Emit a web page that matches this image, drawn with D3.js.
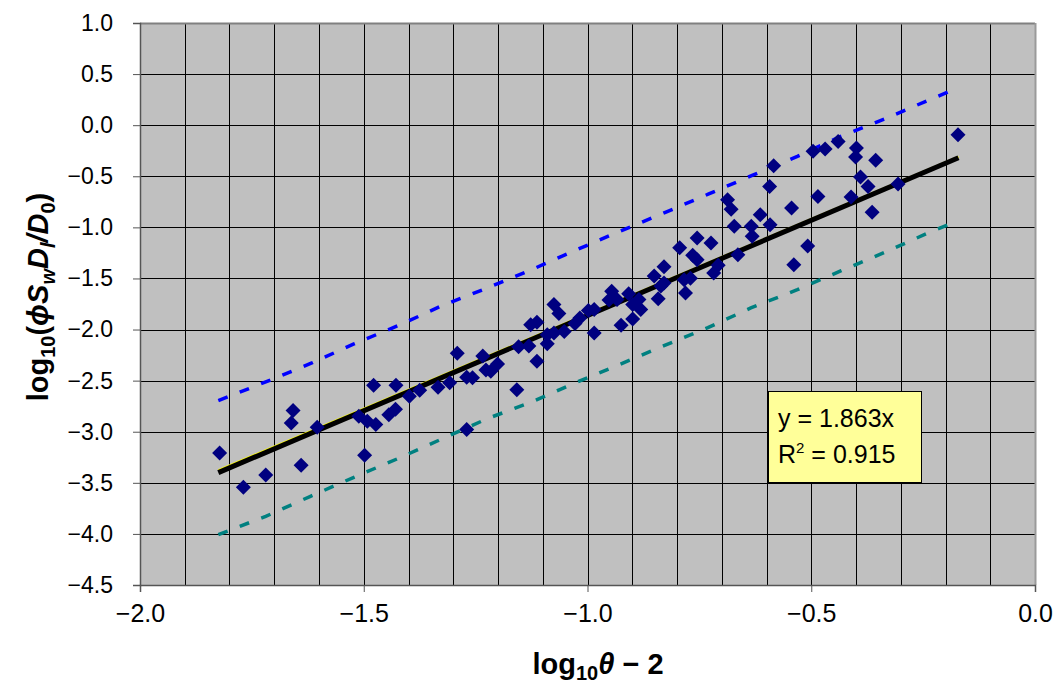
<!DOCTYPE html>
<html><head><meta charset="utf-8">
<script src="https://cdn.jsdelivr.net/npm/d3@7"></script>
<style>
html,body{margin:0;padding:0;background:#fff;}
text{font-family:"Liberation Sans",Arial,sans-serif;fill:#000;}
</style></head>
<body><svg id="c" width="1057" height="687"></svg>
<script>
// ---- data ----
const xVals = [-1.822,-1.769,-1.719,-1.658,-1.662,-1.640,-1.604,-1.498,-1.478,-1.428,-1.511,-1.492,-1.473,-1.444,-1.429,-1.398,-1.375,-1.334,-1.308,-1.291,-1.270,-1.257,-1.270,-1.234,-1.227,-1.216,-1.201,-1.158,-1.154,-1.131,-1.113,-1.127,-1.113,-1.090,-1.075,-1.064,-1.090,-1.075,-1.052,-1.028,-1.017,-0.998,-0.985,-0.985,-0.946,-0.952,-0.934,-0.925,-0.899,-0.908,-0.899,-0.885,-0.881,-0.851,-0.842,-0.836,-0.829,-0.829,-0.794,-0.784,-0.781,-0.770,-0.765,-0.755,-0.755,-0.724,-0.718,-0.708,-0.687,-0.679,-0.672,-0.664,-0.634,-0.632,-0.614,-0.592,-0.593,-0.584,-0.544,-0.539,-0.508,-0.485,-0.496,-0.469,-0.440,-0.399,-0.401,-0.356,-0.390,-0.373,-0.411,-0.364,-0.306,-0.172];
const yVals = [-3.207,-3.544,-3.423,-2.793,-2.914,-3.327,-2.957,-3.231,-2.544,-2.544,-2.849,-2.898,-2.930,-2.833,-2.779,-2.654,-2.593,-2.564,-2.520,-2.233,-2.468,-2.471,-2.979,-2.260,-2.395,-2.409,-2.336,-2.588,-2.169,-2.160,-2.311,-1.952,-1.928,-2.140,-1.756,-1.844,-2.050,-2.033,-2.018,-1.942,-1.888,-1.813,-1.805,-2.035,-1.626,-1.712,-1.707,-1.957,-1.898,-1.649,-1.756,-1.707,-1.805,-1.477,-1.698,-1.575,-1.544,-1.385,-1.199,-1.512,-1.642,-1.497,-1.272,-1.316,-1.104,-1.153,-1.446,-1.370,-0.729,-0.822,-0.990,-1.267,-0.990,-1.088,-0.876,-0.974,-0.599,-0.396,-0.810,-1.365,-1.182,-0.697,-0.256,-0.233,-0.159,-0.223,-0.311,-0.344,-0.507,-0.599,-0.703,-0.853,-0.575,-0.093];

const upperX = [-1.825,-1.716,-1.616,-1.522,-1.418,-1.325,-1.224,-1.125,-1.026,-0.928,-0.826,-0.729,-0.628,-0.531,-0.437,-0.336,-0.239,-0.171];
const upperY = [-2.696,-2.507,-2.327,-2.141,-1.952,-1.766,-1.593,-1.414,-1.223,-1.039,-0.853,-0.673,-0.484,-0.305,-0.115,0.061,0.243,0.367];
const lowerX = [-1.825,-1.719,-1.619,-1.522,-1.420,-1.325,-1.224,-1.127,-1.028,-0.929,-0.829,-0.731,-0.635,-0.531,-0.433,-0.336,-0.239,-0.171];
const lowerY = [-4.007,-3.828,-3.632,-3.446,-3.256,-3.070,-2.872,-2.712,-2.523,-2.343,-2.158,-1.981,-1.789,-1.610,-1.424,-1.245,-1.055,-0.934];

const trendX = [-1.825,-0.171];
const trendSlope = 1.863;
const trend2Slope = 1.854, trend2Intercept = 0.008;

const xTicks = [-2.0,-1.5,-1.0,-0.5,0.0];
const yTicks = [1.0,0.5,0.0,-0.5,-1.0,-1.5,-2.0,-2.5,-3.0,-3.5,-4.0,-4.5];
const eqLines = ["y = 1.863x","R2 = 0.915"];

// ---- drawing ----
const svg = d3.select("#c");
const L=140,R=1035,T=23,B=585;
const x = d3.scaleLinear().domain([-2,0]).range([L,R]);
const y = d3.scaleLinear().domain([-4.5,1]).range([B,T]);

svg.append("rect").attr("x",L).attr("y",T).attr("width",R-L).attr("height",B-T).attr("fill","#C0C0C0");

// grid
const vg = d3.range(-20,1).map(d=>d/10);
svg.append("g").selectAll("line").data(vg).join("line")
  .attr("x1",d=>Math.round(x(d))+0.5).attr("x2",d=>Math.round(x(d))+0.5)
  .attr("y1",T).attr("y2",B).attr("stroke","#000").attr("stroke-width",1);
svg.append("g").selectAll("line").data(yTicks).join("line")
  .attr("y1",d=>Math.round(y(d))+0.5).attr("y2",d=>Math.round(y(d))+0.5)
  .attr("x1",L).attr("x2",R).attr("stroke","#000").attr("stroke-width",1);

// border
svg.append("line").attr("x1",L).attr("x2",R).attr("y1",T+0.5).attr("y2",T+0.5).attr("stroke","#808080").attr("stroke-width",2);
svg.append("line").attr("x1",R+0.5).attr("x2",R+0.5).attr("y1",T).attr("y2",B).attr("stroke","#9a9a9a").attr("stroke-width",2);

// axes
const fmt = d=>d===0?"0.0":d3.format(".1f")(d).replace("-","\u2212");
const xAxis = d3.axisBottom(x).tickValues(xTicks).tickSize(7).tickPadding(12).tickFormat(fmt);
const gx = svg.append("g").attr("transform",`translate(0,${B})`).call(xAxis);
gx.select(".domain").attr("stroke","#555").attr("stroke-width",1.5);
gx.selectAll(".tick line").attr("stroke","#555");
gx.selectAll("text").attr("font-size",25).attr("fill","#000").attr("font-family","Liberation Sans, Arial, sans-serif");

const yAxis = d3.axisLeft(y).tickValues(yTicks).tickSize(7).tickPadding(20).tickFormat(fmt);
const gy = svg.append("g").attr("transform",`translate(${L},0)`).call(yAxis);
gy.select(".domain").attr("stroke","#555").attr("stroke-width",1.5);
gy.selectAll(".tick line").attr("stroke","#555");
gy.selectAll("text").attr("font-size",23).attr("fill","#000").attr("font-family","Liberation Sans, Arial, sans-serif");

// bands
const line = d3.line().x(d=>x(d[0])).y(d=>y(d[1]));
svg.append("path").datum(upperX.map((v,i)=>[v,upperY[i]])).attr("d",line)
  .attr("fill","none").attr("stroke","#0000FF").attr("stroke-width",3.5).attr("stroke-dasharray","10,13");
svg.append("path").datum(lowerX.map((v,i)=>[v,lowerY[i]])).attr("d",line)
  .attr("fill","none").attr("stroke","#008080").attr("stroke-width",3.5).attr("stroke-dasharray","10,13");

// trend lines
svg.append("path").datum(trendX.map(v=>[v,trend2Slope*v+trend2Intercept])).attr("d",line)
  .attr("fill","none").attr("stroke","#FFFF00").attr("stroke-width",2);
svg.append("path").datum(trendX.map(v=>[v,trendSlope*v])).attr("d",line)
  .attr("fill","none").attr("stroke","#000").attr("stroke-width",5);

// points
const r=7.5;
svg.append("g").selectAll("path").data(xVals.map((v,i)=>[v,yVals[i]])).join("path")
  .attr("d",`M0,${-r}L${r},0L0,${r}L${-r},0Z`)
  .attr("transform",d=>`translate(${x(d[0])},${y(d[1])})`)
  .attr("fill","#000080");

// equation box
const bx = svg.append("g");
bx.append("rect").attr("x",768.5).attr("y",391.5).attr("width",153).attr("height",91)
  .attr("fill","#FFFF99").attr("stroke","#000").attr("stroke-width",1);
bx.append("text").attr("x",778).attr("y",427).attr("font-size",25).text(eqLines[0]);
const t2 = bx.append("text").attr("x",778).attr("y",463).attr("font-size",25);
t2.append("tspan").text("R");
t2.append("tspan").attr("dy",-10).attr("font-size",15).text("2");
t2.append("tspan").attr("dy",10).text(" = 0.915");

// axis titles
const xt = svg.append("text").attr("x",598).attr("y",674).attr("text-anchor","middle")
  .attr("font-size",29).attr("font-weight","bold");
xt.append("tspan").text("log");
xt.append("tspan").attr("dy",6).attr("font-size",20).text("10");
xt.append("tspan").attr("dy",-6).attr("font-style","italic").text("\u03B8");
xt.append("tspan").text(" \u2212 2");

const yt = svg.append("text").attr("transform","translate(48,297) rotate(-90)").attr("text-anchor","middle")
  .attr("font-size",29).attr("font-weight","bold");
yt.append("tspan").text("log");
yt.append("tspan").attr("dy",7).attr("font-size",20).text("10");
yt.append("tspan").attr("dy",-7).text("(");
yt.append("tspan").attr("font-style","italic").text("\u03D5S");
yt.append("tspan").attr("dy",7).attr("font-size",20).attr("font-style","italic").text("w");
yt.append("tspan").attr("dy",-7).attr("font-style","italic").text("D");
yt.append("tspan").attr("dy",7).attr("font-size",20).attr("font-style","italic").text("l");
yt.append("tspan").attr("dy",-7).attr("font-style","italic").text("/D");
yt.append("tspan").attr("dy",7).attr("font-size",20).text("0");
yt.append("tspan").attr("dy",-7).text(")");
</script></body></html>
